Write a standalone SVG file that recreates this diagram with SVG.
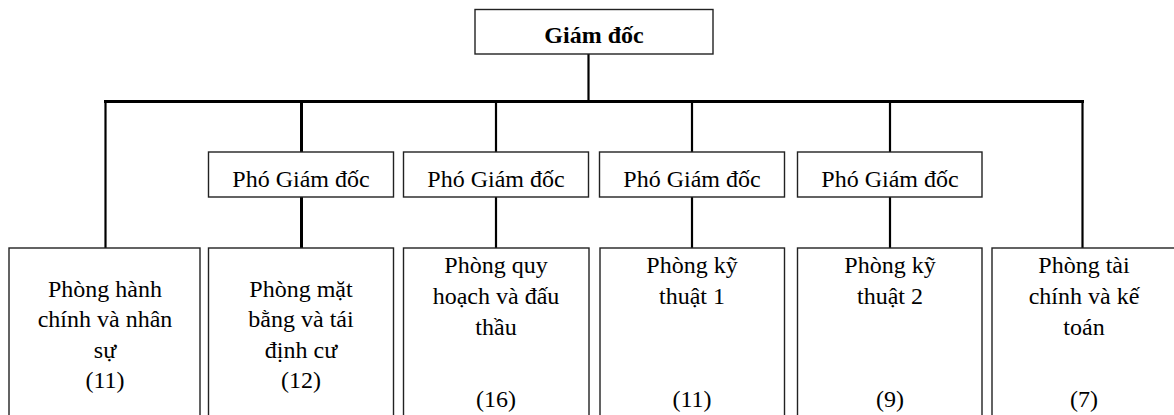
<svg xmlns="http://www.w3.org/2000/svg" width="1174" height="415" viewBox="0 0 1174 415">
<style>
.box{fill:#fff;stroke:#222;stroke-width:1.4}
.ln{stroke:#000;fill:none;stroke-width:2.2}
.thick{stroke-width:3}
.t text{font-family:'Liberation Serif',serif;font-size:24px;fill:#000;text-anchor:middle}
.t .b{font-weight:bold}
</style>
<rect width="1174" height="415" fill="#fff"/>
<g id="connectors">
<line class="ln" x1="588.5" y1="54" x2="588.5" y2="101.5"/>
<line class="ln thick" x1="104" y1="101.5" x2="1084" y2="101.5"/>
<line class="ln" x1="105.5" y1="101.5" x2="105.5" y2="248"/>
<line class="ln thick" x1="301.5" y1="101.5" x2="301.5" y2="152"/>
<line class="ln thick" x1="301.5" y1="197" x2="301.5" y2="248"/>
<line class="ln" x1="496" y1="101.5" x2="496" y2="152"/>
<line class="ln" x1="496" y1="197" x2="496" y2="248"/>
<line class="ln" x1="692" y1="101.5" x2="692" y2="152"/>
<line class="ln" x1="692" y1="197" x2="692" y2="248"/>
<line class="ln" x1="890" y1="101.5" x2="890" y2="152"/>
<line class="ln" x1="890" y1="197" x2="890" y2="248"/>
<line class="ln" x1="1082.5" y1="100" x2="1082.5" y2="248"/>
</g>
<g class="t">
<g id="giam-doc">
<rect class="box" x="475" y="9.5" width="238" height="44.5"/>
<text class="b" x="594" y="42.5">Giám đốc</text>
</g>
<g id="pgd1"><rect class="box" x="208.5" y="152" width="185" height="45"/><text x="301" y="186.5">Phó Giám đốc</text></g>
<g id="pgd2"><rect class="box" x="403.5" y="152" width="185" height="45"/><text x="496" y="186.5">Phó Giám đốc</text></g>
<g id="pgd3"><rect class="box" x="599.5" y="152" width="185" height="45"/><text x="692" y="186.5">Phó Giám đốc</text></g>
<g id="pgd4"><rect class="box" x="797.5" y="152" width="184.5" height="45"/><text x="890" y="186.5">Phó Giám đốc</text></g>
<g id="phong1"><rect class="box" x="9" y="248" width="191" height="180"/>
<text x="105" y="296.5">Phòng hành</text><text x="105" y="327">chính và nhân</text><text x="105" y="357.5">sự</text><text x="105" y="388">(11)</text></g>
<g id="phong2"><rect class="box" x="208.5" y="248" width="185" height="180"/>
<text x="301" y="296.5">Phòng mặt</text><text x="301" y="327">bằng và tái</text><text x="301" y="357.5">định cư</text><text x="301" y="388">(12)</text></g>
<g id="phong3"><rect class="box" x="403.5" y="248" width="185.5" height="180"/>
<text x="496" y="273">Phòng quy</text><text x="496" y="304">hoạch và đấu</text><text x="496" y="334.5">thầu</text><text x="496" y="406.5">(16)</text></g>
<g id="phong4"><rect class="box" x="600" y="248" width="184.5" height="180"/>
<text x="692" y="273">Phòng kỹ</text><text x="692" y="304">thuật 1</text><text x="692" y="406.5">(11)</text></g>
<g id="phong5"><rect class="box" x="797.5" y="248" width="184.5" height="180"/>
<text x="890" y="273">Phòng kỹ</text><text x="890" y="304">thuật 2</text><text x="890" y="406.5">(9)</text></g>
<g id="phong6"><rect class="box" x="992" y="248" width="185" height="180"/>
<text x="1084" y="273">Phòng tài</text><text x="1084" y="304">chính và kế</text><text x="1084" y="334.5">toán</text><text x="1084" y="406.5">(7)</text></g>
</g>
</svg>
